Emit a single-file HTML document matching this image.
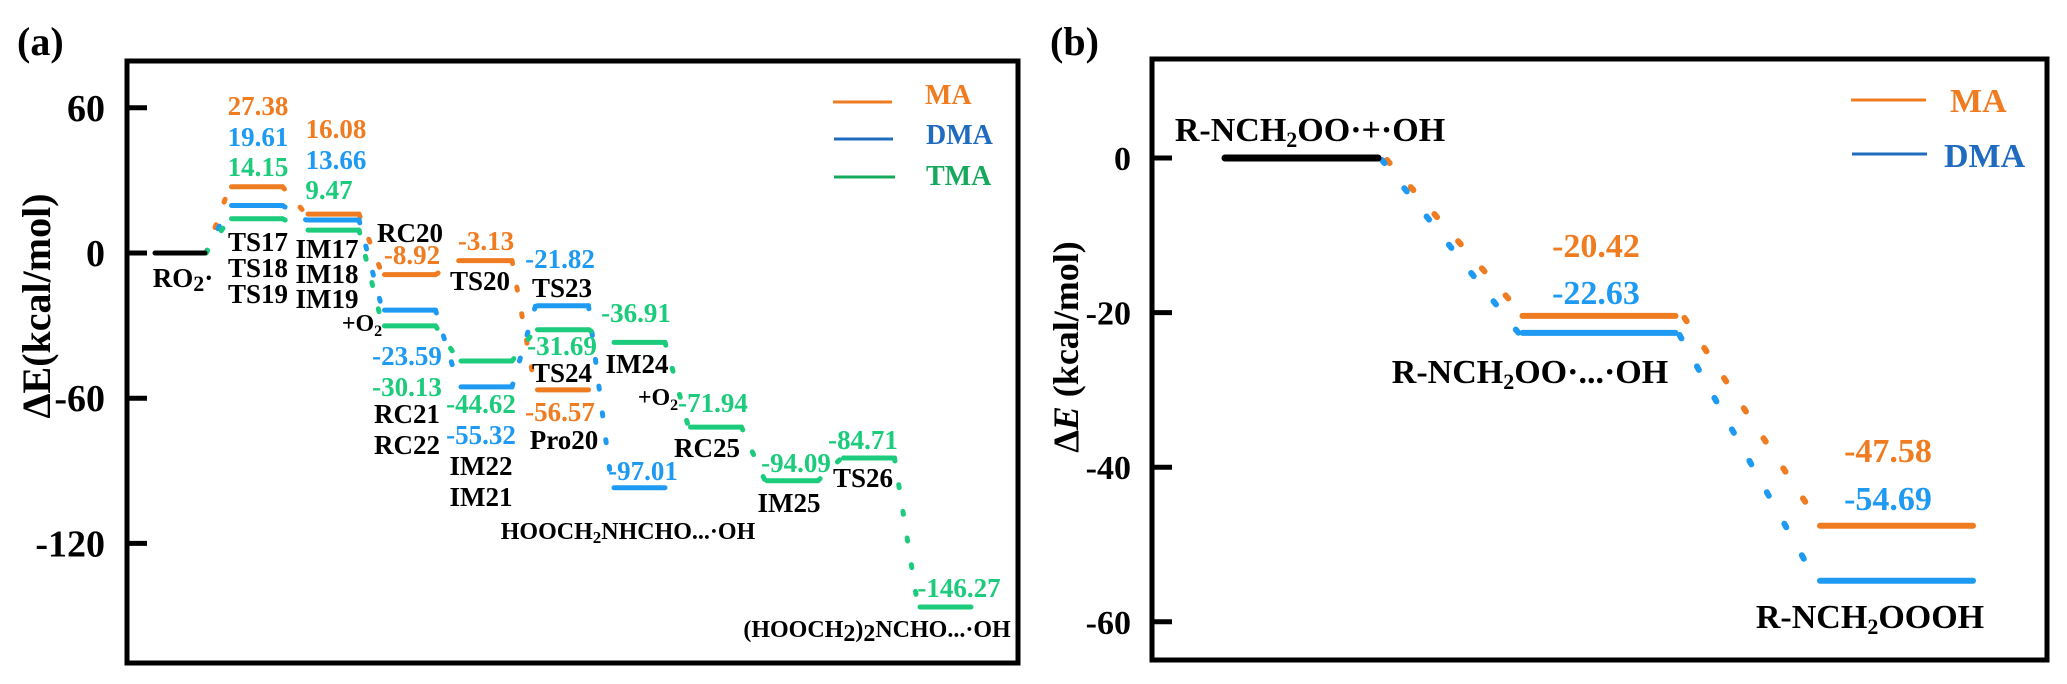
<!DOCTYPE html>
<html><head><meta charset="utf-8"><style>
html,body{margin:0;padding:0;background:#fff;}
svg{display:block;font-family:"Liberation Serif",serif;font-weight:bold;}
</style></head><body>
<svg id="chart" width="2067" height="684" viewBox="0 0 2067 684" xmlns="http://www.w3.org/2000/svg">
<g id="pa">
  <text x="17" y="55" font-size="40">(a)</text>
  <rect x="127" y="61" width="891" height="602" fill="none" stroke="#000" stroke-width="5"/>
  <text transform="translate(50,306) rotate(-90)" text-anchor="middle" font-size="40">ΔE(kcal/mol)</text>
  <g id="pa-ticks"></g>
  <g id="pa-conn"></g>
  <g id="pa-levels"></g>
  <g font-size="27" text-anchor="middle">
    <text x="183" y="287">RO<tspan font-size="22" dy="4">2</tspan><tspan dy="-4">·</tspan></text>
    <text x="258" y="251">TS17</text>
    <text x="258" y="277">TS18</text>
    <text x="258" y="303">TS19</text>
    <text x="327" y="258">IM17</text>
    <text x="327" y="283">IM18</text>
    <text x="327" y="308">IM19</text>
    <text x="410" y="242">RC20</text>
    <text x="362" y="331" font-size="24">+O<tspan font-size="16" dy="5">2</tspan></text>
    <text x="480" y="290">TS20</text>
    <text x="562" y="297">TS23</text>
    <text x="407" y="423">RC21</text>
    <text x="407" y="454">RC22</text>
    <text x="481" y="475">IM22</text>
    <text x="481" y="506">IM21</text>
    <text x="562" y="382">TS24</text>
    <text x="564" y="449">Pro20</text>
    <text x="637" y="373">IM24</text>
    <text x="658" y="405" font-size="24">+O<tspan font-size="16" dy="5">2</tspan></text>
    <text x="707" y="457">RC25</text>
    <text x="789" y="512">IM25</text>
    <text x="863" y="487">TS26</text>
    <text x="628" y="539" font-size="24">HOOCH<tspan font-size="17" dy="4">2</tspan><tspan dy="-4">NHCHO...·OH</tspan></text>
    <text x="877" y="637" font-size="24">(HOOCH<tspan dy="4">2</tspan><tspan dy="-4">)</tspan><tspan dy="4">2</tspan><tspan dy="-4">NCHO...·OH</tspan></text>
  </g>
  <g font-size="27" text-anchor="middle">
    <text x="258" y="115" fill="#F07C22">27.38</text>
    <text x="258" y="146" fill="#1E9AF2">19.61</text>
    <text x="258" y="176" fill="#1CCB7C">14.15</text>
    <text x="336" y="138" fill="#F07C22">16.08</text>
    <text x="336" y="169" fill="#1E9AF2">13.66</text>
    <text x="329" y="199" fill="#1CCB7C">9.47</text>
    <text x="412" y="264" fill="#F07C22">-8.92</text>
    <text x="486" y="250" fill="#F07C22">-3.13</text>
    <text x="560" y="268" fill="#1E9AF2">-21.82</text>
    <text x="407" y="365" fill="#1E9AF2">-23.59</text>
    <text x="407" y="396" fill="#1CCB7C">-30.13</text>
    <text x="481" y="413" fill="#1CCB7C">-44.62</text>
    <text x="481" y="444" fill="#1E9AF2">-55.32</text>
    <text x="562" y="355" fill="#1CCB7C">-31.69</text>
    <text x="560" y="421" fill="#F07C22">-56.57</text>
    <text x="636" y="322" fill="#1CCB7C">-36.91</text>
    <text x="713" y="412" fill="#1CCB7C">-71.94</text>
    <text x="643" y="480" fill="#1E9AF2">-97.01</text>
    <text x="796" y="472" fill="#1CCB7C">-94.09</text>
    <text x="863" y="449" fill="#1CCB7C">-84.71</text>
    <text x="959" y="597" fill="#1CCB7C">-146.27</text>
  </g>
  <g>
    <line x1="833" y1="102" x2="892" y2="102" stroke="#F07C22" stroke-width="3"/>
    <text x="925" y="104" font-size="28" fill="#F07C22">MA</text>
    <line x1="834" y1="139" x2="893" y2="139" stroke="#1F6BC0" stroke-width="3"/>
    <text x="926" y="144" font-size="28" fill="#1F6BC0">DMA</text>
    <line x1="834" y1="177" x2="895" y2="177" stroke="#16A85C" stroke-width="3"/>
    <text x="926" y="185" font-size="28" fill="#16A85C">TMA</text>
  </g>
</g>
<g id="pb">
  <text x="1050" y="55" font-size="40">(b)</text>
  <rect x="1152" y="59" width="895" height="601" fill="none" stroke="#000" stroke-width="5"/>
  <text transform="translate(1078,347) rotate(-90)" text-anchor="middle" font-size="36">Δ<tspan font-style="italic">E</tspan> (kcal/mol)</text>
  <g id="pb-ticks"></g>
  <g id="pb-conn"></g>
  <g id="pb-levels"></g>
  <g font-size="34" text-anchor="middle">
    <text x="1310" y="141">R-NCH<tspan font-size="22" dy="6">2</tspan><tspan dy="-6">OO·+·OH</tspan></text>
    <text x="1530" y="383">R-NCH<tspan font-size="22" dy="6">2</tspan><tspan dy="-6">OO·...·OH</tspan></text>
    <text x="1870" y="628">R-NCH<tspan font-size="22" dy="6">2</tspan><tspan dy="-6">OOOH</tspan></text>
    <text x="1596" y="257" fill="#F07C22">-20.42</text>
    <text x="1596" y="304" fill="#1E9AF2">-22.63</text>
    <text x="1888" y="462" fill="#F07C22">-47.58</text>
    <text x="1888" y="510" fill="#1E9AF2">-54.69</text>
  </g>
  <g>
    <line x1="1851" y1="100" x2="1926" y2="100" stroke="#F07C22" stroke-width="3"/>
    <text x="1950" y="112" font-size="34" fill="#F07C22">MA</text>
    <line x1="1852" y1="154" x2="1927" y2="154" stroke="#1F6BC0" stroke-width="3"/>
    <text x="1944" y="167" font-size="34" fill="#1F6BC0">DMA</text>
  </g>
</g>
</svg>
<script>
// ---- Panel (a) data ----
const aTicks = [60, 0, -60, -120];
const aTickLabels = ["60", "0", "-60", "-120"];
const maCols = [0, 1, 2, 3, 4, 5];
const maE = [0, 27.38, 16.08, -8.92, -3.13, -56.57];
const dmaCols = [0, 1, 2, 3, 4, 5, 6];
const dmaE = [0, 19.61, 13.66, -23.59, -55.32, -21.82, -97.01];
const tmaCols = [0, 1, 2, 3, 4, 5, 6, 7, 8, 9, 10];
const tmaE = [0, 14.15, 9.47, -30.13, -44.62, -31.69, -36.91, -71.94, -94.09, -84.71, -146.27];
// ---- Panel (b) data ----
const bTicks = [0, -20, -40, -60];
const bTickLabels = ["0", "-20", "-40", "-60"];
const bMaE = [0, -20.42, -47.58];
const bDmaE = [0, -22.63, -54.69];

const NS = "http://www.w3.org/2000/svg";
const C = {ma: "#F07C22", dma: "#1E9AF2", tma: "#1CCB7C"};
function mk(tag, attrs, parent) {
  const e = document.createElementNS(NS, tag);
  for (const k in attrs) e.setAttribute(k, attrs[k]);
  parent.appendChild(e);
  return e;
}
const ayScale = v => 253 - 2.42 * v;
const axStart = c => 155 + 76.5 * c;
const LW_A = 51;
const byScale = v => 158 - 7.73 * v;
const bxStart = c => 1225 + 297.5 * c;
const LW_B = 153;

const paT = document.getElementById("pa-ticks");
aTicks.forEach((t, i) => {
  const l = mk("line", {x1: 127, x2: 147, y1: ayScale(t), y2: ayScale(t), stroke: "#000", "stroke-width": 5}, paT);
  
  
  const tx = mk("text", {x: 105, y: ayScale(t) + 13, "text-anchor": "end", "font-size": 38}, paT);
  tx.textContent = aTickLabels[i];
  
  
});

const paL = document.getElementById("pa-levels");
const paC = document.getElementById("pa-conn");
function drawSeriesA(cols, es, color, key, off) {
  for (let i = 0; i < cols.length; i++) {
    if (i > 0) {
      const x1 = axStart(cols[i - 1]) + LW_A + off, y1 = ayScale(es[i - 1]);
      const x2 = axStart(cols[i]) - 2 + off, y2 = ayScale(es[i]);
      const cl = mk("line", {x1, y1, x2, y2, stroke: color, "stroke-width": 5, "stroke-linecap": "round", "stroke-dasharray": "3 24"}, paC);
      
      
    }
    if (cols[i] === 0) continue;
    const x = axStart(cols[i]);
    const ln = mk("line", {x1: x, x2: x + LW_A, y1: ayScale(es[i]), y2: ayScale(es[i]), stroke: color, "stroke-width": 5, "stroke-linecap": "round"}, paL);
    
    
  }
}
drawSeriesA(maCols, maE, C.ma, "ma", 0);
drawSeriesA(dmaCols, dmaE, C.dma, "dma", 0);
drawSeriesA(tmaCols, tmaE, C.tma, "tma", 0);
const ro2 = mk("line", {x1: axStart(0), x2: axStart(0) + 50, y1: ayScale(0), y2: ayScale(0), stroke: "#000", "stroke-width": 5, "stroke-linecap": "round"}, paL);



const pbT = document.getElementById("pb-ticks");
bTicks.forEach((t, i) => {
  const l = mk("line", {x1: 1152, x2: 1172, y1: byScale(t), y2: byScale(t), stroke: "#000", "stroke-width": 5}, pbT);
  
  
  const tx = mk("text", {x: 1131, y: byScale(t) + 12, "text-anchor": "end", "font-size": 34}, pbT);
  tx.textContent = bTickLabels[i];
  
  
});
const pbL = document.getElementById("pb-levels");
const pbC = document.getElementById("pb-conn");
function drawSeriesB(es, color, key, off) {
  for (let i = 0; i < es.length; i++) {
    if (i > 0) {
      const x1 = bxStart(i - 1) + LW_B + 4 + off, y1 = byScale(es[i - 1]) + 2;
      const x2 = bxStart(i) - 4 + off, y2 = byScale(es[i]);
      const cl = mk("line", {x1, y1, x2, y2, stroke: color, "stroke-width": 6, "stroke-linecap": "round", "stroke-dasharray": "4 32"}, pbC);
      
      
    }
    if (i === 0) continue;
    const x = bxStart(i);
    const ln = mk("line", {x1: x, x2: x + LW_B, y1: byScale(es[i]), y2: byScale(es[i]), stroke: color, "stroke-width": 6, "stroke-linecap": "round"}, pbL);
    
    
  }
}
drawSeriesB(bMaE, C.ma, "ma", 5);
drawSeriesB(bDmaE, C.dma, "dma", 0);
const r0 = mk("line", {x1: bxStart(0), x2: bxStart(0) + LW_B, y1: byScale(0), y2: byScale(0), stroke: "#000", "stroke-width": 7, "stroke-linecap": "round"}, pbL);


</script>
</body></html>
